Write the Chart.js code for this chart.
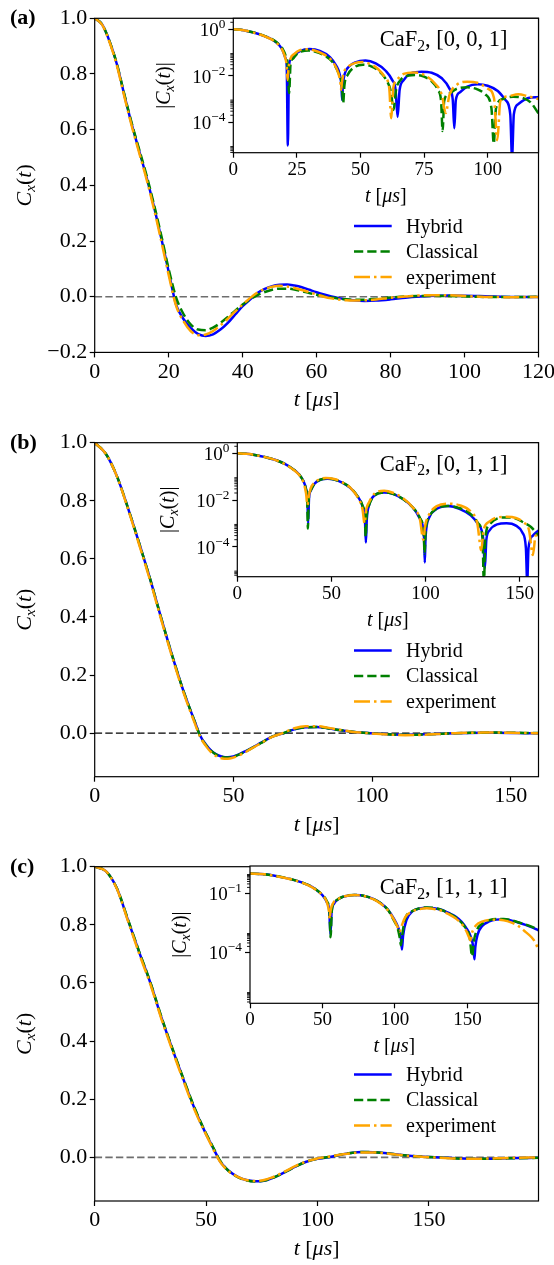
<!DOCTYPE html>
<html>
<head>
<meta charset="utf-8">
<script src="https://cdn.jsdelivr.net/npm/chart.js@4.4.1/dist/chart.umd.min.js"></script>
<style>
html, body { margin: 0; padding: 0; background: #fff; overflow: hidden; width: 554px; height: 1265px; }
canvas { position: absolute; }
</style>
</head>
<body>
<canvas id="mainA" width="580" height="420" style="left:0;top:0"></canvas>
<canvas id="insetA" width="450" height="215" style="left:130px;top:0"></canvas>
<canvas id="mainB" width="580" height="420" style="left:0;top:420px"></canvas>
<canvas id="insetB" width="450" height="215" style="left:130px;top:420px"></canvas>
<canvas id="mainC" width="580" height="425" style="left:0;top:840px"></canvas>
<canvas id="insetC" width="450" height="215" style="left:130px;top:840px"></canvas>
<script>
// ---------- panel (a): CaF2 [0,0,1] ----------
const tA = [0,2,4,6,8,10,12,14,16,18,20,22,24,26,28,30,32,34,36,38,40,42,44,46,48,50,52,54,56,58,60,62,64,66,68,70,73,76,80,84,88,92,96,100,104,108,112,116,120];
const hybA = [1.0,0.978,0.918,0.835,0.725,0.62,0.525,0.43,0.325,0.21,0.09,-0.028,-0.08,-0.113,-0.134,-0.141,-0.135,-0.118,-0.094,-0.064,-0.034,-0.01,0.013,0.028,0.038,0.043,0.044,0.04,0.034,0.025,0.016,0.008,0.001,-0.005,-0.01,-0.013,-0.015,-0.014,-0.0095,-0.0035,0.0006,0.0034,0.0043,0.0037,0.0022,0.0006,-0.0006,-0.0011,-0.0012];
const clsA = [1.0,0.978,0.918,0.836,0.728,0.624,0.53,0.437,0.333,0.22,0.1,-0.002,-0.062,-0.1,-0.118,-0.12,-0.111,-0.094,-0.073,-0.05,-0.028,-0.01,0.006,0.017,0.025,0.029,0.029,0.026,0.02,0.013,0.007,0.002,-0.003,-0.007,-0.0095,-0.0107,-0.0105,-0.008,-0.003,0.0012,0.0028,0.0032,0.0026,0.0012,-0.0004,-0.0011,-0.0012,-0.0008,-0.00024];
const expA = [1.0,0.977,0.915,0.83,0.72,0.614,0.518,0.423,0.317,0.2,0.078,-0.032,-0.088,-0.124,-0.138,-0.136,-0.123,-0.103,-0.079,-0.053,-0.028,-0.005,0.015,0.028,0.036,0.039,0.037,0.031,0.024,0.016,0.008,0.0,-0.006,-0.01,-0.013,-0.014,-0.013,-0.01,-0.004,0.0008,0.0045,0.0056,0.005,0.0028,0.0,-0.0012,-0.0016,-0.0013,-0.001];

// inset (a): |C_x(t)|
const tHybAi = [0,4,8,12,16,18,19.5,20.5,21,21.45,21.9,22.5,24,26,30,34,38,40.5,41.8,42.5,42.8,43.1,43.8,45.5,48,52,56,60,62.5,63.8,64.6,65.4,67,70,74,78,82,85,86.3,86.9,87.5,89,92,96,100,104,107,108.9,109.6,110.3,112,116,120];
const hybAi = [1.0,0.918,0.725,0.525,0.325,0.21,0.118,0.058,0.027,1e-5,0.024,0.05,0.08,0.112,0.141,0.118,0.064,0.027,0.012,0.004,9e-4,0.004,0.012,0.025,0.038,0.045,0.034,0.016,0.0065,0.0025,1.7e-4,0.0025,0.0065,0.013,0.015,0.0135,0.0078,0.0028,9e-4,5.5e-5,9e-4,0.0019,0.0034,0.0043,0.0037,0.0022,0.0009,0.00022,3e-6,0.00022,0.0006,0.0011,0.0012];
const tClsAi = [0,4,8,12,16,18,19.5,20.5,21.3,21.95,22.5,23.5,25,27,29.5,32,36,39,41.5,42.7,43.2,43.7,45,48,51,54,57,60,62,63,64,66,69,72,75,78,80.5,81.7,82.3,82.9,84.5,88,92,96,99,101.5,102.4,103.3,106,110,114,117,120];
const clsAi = [1.0,0.918,0.728,0.53,0.333,0.22,0.138,0.078,0.036,1.8e-3,0.03,0.055,0.087,0.113,0.121,0.111,0.073,0.039,0.012,0.004,6.6e-4,0.004,0.011,0.025,0.03,0.026,0.017,0.007,0.002,3.4e-4,0.0025,0.007,0.0102,0.0108,0.0092,0.0058,0.0024,8e-4,4.2e-5,8e-4,0.0016,0.0028,0.0032,0.0026,0.0016,0.0004,1.2e-5,0.0004,0.001,0.00125,0.0011,0.0007,0.00024];
const tExpAi = [0,4,8,12,16,18,19.5,20.5,21,21.35,21.7,22.5,24,26,29,32,36,39,41.3,42.1,42.4,42.7,43.5,45,48,51,54,57,59.5,61.3,62.1,62.9,64.5,67,71,75,79,82,83.5,85,88,92,96,100,102.5,103.8,105,108,112,116,120];
const expAi = [1.0,0.915,0.72,0.518,0.317,0.2,0.115,0.055,0.026,6.6e-3,0.02,0.055,0.088,0.124,0.138,0.123,0.079,0.041,0.013,0.005,2.5e-3,0.005,0.014,0.024,0.036,0.039,0.031,0.019,0.009,0.003,1.5e-4,0.003,0.007,0.012,0.014,0.011,0.005,0.0015,2.5e-4,0.0015,0.0042,0.0056,0.005,0.0028,0.0011,1.7e-5,0.0008,0.0013,0.0016,0.0013,0.001];

// ---------- panel (b): CaF2 [0,1,1] ----------
const tB = [0,4,8,12,16,20,24,28,32,34,36,38,40,42,44,46,48,50,52,54,56,60,64,68,72,76,80,84,88,92,96,100,104,108,112,116,120,125,130,135,140,145,150,155,160];
const hybB = [1.0,0.962,0.885,0.775,0.655,0.53,0.395,0.265,0.145,0.092,0.042,-0.008,-0.038,-0.06,-0.074,-0.081,-0.083,-0.08,-0.073,-0.064,-0.054,-0.033,-0.012,-0.001,0.013,0.02,0.021,0.017,0.011,0.006,0.002,-0.0003,-0.003,-0.0048,-0.0055,-0.005,-0.0038,-0.0022,-0.0004,0.0007,0.001,0.0009,0.0005,-0.0001,-0.0005];
const clsB = [1.0,0.962,0.885,0.775,0.655,0.53,0.395,0.265,0.145,0.092,0.041,-0.01,-0.04,-0.061,-0.075,-0.082,-0.084,-0.081,-0.074,-0.065,-0.055,-0.034,-0.012,-0.0005,0.014,0.02,0.021,0.017,0.011,0.006,0.0018,-0.0005,-0.0032,-0.005,-0.0056,-0.0052,-0.004,-0.0024,-0.0004,0.0011,0.0017,0.0018,0.0014,0.0007,0.0003];
const expB = [1.0,0.962,0.884,0.772,0.65,0.525,0.39,0.26,0.14,0.087,0.036,-0.012,-0.043,-0.066,-0.08,-0.087,-0.088,-0.084,-0.077,-0.067,-0.056,-0.034,-0.013,0.001,0.017,0.024,0.024,0.019,0.012,0.006,0.0018,-0.001,-0.004,-0.006,-0.007,-0.0065,-0.005,-0.0026,-0.0001,0.0012,0.0018,0.0018,0.0013,0.0004,-0.0002];

const tHybBi = [0,5,10,15,20,25,30,33,35,36.5,37.2,37.65,38.1,39,41,44,48,52,56,60,64,66.5,67.8,68.3,68.8,70,73,78,83,88,93,97,99.2,99.6,100,102,106,112,118,124,128,130.7,131.5,132.3,134,138,143,148,151.5,153.3,154,154.7,157,160];
const hybBi = [1.0,0.95,0.83,0.685,0.53,0.36,0.2,0.12,0.068,0.03,0.012,1e-3,0.012,0.025,0.05,0.073,0.081,0.073,0.054,0.033,0.014,0.0055,0.0015,1.5e-4,0.0015,0.006,0.016,0.021,0.018,0.011,0.005,0.0016,2.5e-4,2.1e-5,2.5e-4,0.0018,0.0042,0.0055,0.0042,0.0022,0.0009,0.0002,1.2e-5,0.0002,0.0005,0.0009,0.001,0.0008,0.0004,9e-5,3e-6,9e-5,0.0003,0.0005];
const tClsBi = [0,5,10,15,20,25,30,33,35,36.5,37.1,37.5,37.9,39,41,44,48,52,56,60,64,66.5,67.7,68.2,68.7,70,73,78,83,88,93,97,99,99.5,100,102,106,112,118,124,128,130.3,131,131.7,134,138,143,148,152,156,160];
const clsBi = [1.0,0.95,0.83,0.685,0.53,0.36,0.2,0.12,0.066,0.028,0.012,6e-4,0.01,0.026,0.05,0.074,0.082,0.074,0.055,0.034,0.014,0.0058,0.002,2.7e-4,0.002,0.006,0.016,0.021,0.018,0.011,0.005,0.0017,4e-4,5e-5,4e-4,0.0019,0.0043,0.0056,0.0045,0.0025,0.001,0.0002,2e-6,0.0002,0.0009,0.0016,0.0018,0.0016,0.0011,0.0007,0.0003];
const tExpBi = [0,5,10,15,20,25,30,33,35,36.5,37.3,37.8,39,41,44,47,52,56,60,64,66.5,67.6,68.5,70,73,78,83,88,93,97,98.8,99.8,102,106,112,118,124,127.5,129.6,130.8,134,138,143,148,152,155,157,158.5,160];
const expBi = [1.0,0.95,0.83,0.68,0.525,0.355,0.195,0.115,0.06,0.02,6e-3,0.012,0.032,0.055,0.08,0.088,0.077,0.056,0.034,0.013,0.004,1e-3,0.004,0.008,0.019,0.025,0.02,0.012,0.005,0.0015,2e-4,0.0008,0.0025,0.0055,0.007,0.006,0.0032,0.001,7e-5,0.0005,0.0012,0.0018,0.0019,0.0017,0.0011,0.0005,4.4e-5,0.0003,0.0002];

// ---------- panel (c): CaF2 [1,1,1] ----------
const tC = [0,5,10,15,20,25,30,35,40,45,50,52,54,56,58,60,64,68,72,76,80,85,90,95,100,105,110,115,120,125,130,135,140,145,150,155,160,165,170,175,180,185,190,195,199];
const hybC = [1.0,0.985,0.925,0.815,0.705,0.6,0.48,0.37,0.265,0.165,0.08,0.05,0.02,-0.01,-0.03,-0.045,-0.066,-0.078,-0.082,-0.08,-0.07,-0.052,-0.032,-0.015,-0.0045,0.0003,0.0085,0.015,0.0183,0.0178,0.015,0.0105,0.0066,0.0036,0.0013,-0.0001,-0.0021,-0.0037,-0.0046,-0.0048,-0.0042,-0.0033,-0.0025,-0.0018,-0.0013];
const clsC = [1.0,0.985,0.925,0.817,0.707,0.602,0.482,0.372,0.267,0.167,0.082,0.052,0.022,-0.008,-0.029,-0.046,-0.067,-0.079,-0.083,-0.08,-0.07,-0.052,-0.032,-0.015,-0.004,0.001,0.009,0.015,0.0185,0.018,0.015,0.0102,0.0062,0.0033,0.0011,-0.0006,-0.0028,-0.0043,-0.005,-0.005,-0.0043,-0.0034,-0.0026,-0.0019,-0.0014];
const expC = [1.0,0.985,0.923,0.812,0.7,0.595,0.475,0.365,0.26,0.16,0.078,0.047,0.016,-0.012,-0.032,-0.047,-0.066,-0.078,-0.081,-0.078,-0.068,-0.05,-0.03,-0.014,-0.0035,0.0025,0.009,0.014,0.0172,0.017,0.014,0.0096,0.0058,0.0031,0.0007,-0.0012,-0.0034,-0.0044,-0.0045,-0.0042,-0.0033,-0.0022,-0.0011,-0.0004,-0.00012];

const tHybCi = [0,10,20,30,40,45,50,53,54.7,55.5,56.3,58,60,64,68,72,76,80,85,90,95,99,102,104,104.8,105.6,108,112,117,122,127,132,137,142,146,149,152,154.2,154.8,155.4,157,160,165,170,175,180,185,190,195,199];
const hybCi = [1.0,0.925,0.705,0.48,0.265,0.165,0.08,0.035,0.012,8e-4,0.012,0.03,0.045,0.066,0.078,0.082,0.08,0.07,0.052,0.032,0.015,0.0055,0.002,0.0006,1.4e-4,0.0007,0.0045,0.012,0.017,0.0185,0.0175,0.0145,0.01,0.0065,0.0036,0.0018,0.0007,0.00015,4.4e-5,0.00018,0.0008,0.0021,0.0037,0.0046,0.0048,0.0042,0.0033,0.0025,0.0018,0.0013];
const tClsCi = [0,10,20,30,40,45,50,53,54.8,55.6,56.4,58,60,64,68,72,76,80,85,90,95,99,102,103.4,104.1,104.8,107,112,117,122,127,132,137,142,146,149,151.5,153.2,154.5,157,160,165,170,175,180,185,190,195,199];
const clsCi = [1.0,0.925,0.707,0.482,0.267,0.167,0.082,0.04,0.012,5.8e-4,0.012,0.032,0.046,0.067,0.079,0.083,0.08,0.07,0.052,0.032,0.015,0.0045,0.0015,0.0005,2.3e-4,0.0006,0.005,0.0125,0.0175,0.019,0.018,0.0145,0.0098,0.006,0.0032,0.0016,0.0006,6.3e-5,0.0004,0.0016,0.0028,0.0043,0.005,0.005,0.0043,0.0034,0.0026,0.0019,0.0014];
const tExpCi = [0,10,20,30,40,45,50,53,54.5,55,55.5,57.5,60,64,68,72,76,80,85,90,95,99,102,103.2,104.2,107,112,117,122,127,132,137,142,146,149,151,152.1,153,156,160,165,170,175,180,185,190,194,197,199];
const expCi = [1.0,0.923,0.7,0.475,0.26,0.16,0.078,0.036,0.012,4.8e-3,0.012,0.033,0.047,0.066,0.078,0.081,0.078,0.068,0.05,0.03,0.014,0.005,0.0018,1.1e-3,0.0018,0.006,0.012,0.016,0.0175,0.016,0.013,0.0088,0.0052,0.0028,0.0013,0.0006,4e-4,0.0009,0.0024,0.0036,0.0044,0.0045,0.0042,0.0033,0.0022,0.0011,0.0006,0.0003,0.00012];

// tick values
const yTicksA = [-0.2,0,0.2,0.4,0.6,0.8,1.0];
const yTicksBC = [0,0.2,0.4,0.6,0.8,1.0];
const xTicksA = [0,20,40,60,80,100,120];
const xTicksAi = [0,25,50,75,100];
const xTicks50 = [0,50,100,150];
const logExpAB = [0,-2,-4];
const logExpC = [-1,-4];
const MINOR_SUBS = [2,3,4,5,6,7,8,9];

const SERIF = '"Liberation Serif", "Times New Roman", serif';
const BLUE = '#0000ff', GREEN = '#008000', ORANGE = '#ffa500';
Chart.defaults.font.family = SERIF;

function fontStr(size, it, bold) {
    return (it ? 'italic ' : '') + (bold ? 'bold ' : '') + size + 'px ' + SERIF;
}

// draw text made of pieces (italic, subscript, superscript)
function drawRich(ctx, segs, x, y, size, align, bold) {
    let w = 0;
    for (const s of segs) {
        ctx.font = fontStr(s.sub || s.sup ? size * 0.7 : size, s.it, bold);
        w += ctx.measureText(s.t).width;
    }
    let cx = align === 'center' ? x - w / 2 : align === 'right' ? x - w : x;
    ctx.textAlign = 'left';
    ctx.textBaseline = 'alphabetic';
    ctx.fillStyle = '#000';
    for (const s of segs) {
        ctx.font = fontStr(s.sub || s.sup ? size * 0.7 : size, s.it, bold);
        const dy = s.sub ? size * 0.2 : s.sup ? -size * 0.42 : 0;
        ctx.fillText(s.t, cx, y + dy);
        cx += ctx.measureText(s.t).width;
    }
}

const X_TITLE = [{ t: 't', it: true }, { t: ' [' }, { t: 'μ', it: true }, { t: 's', it: true }, { t: ']' }];
const Y_MAIN = [{ t: 'C', it: true }, { t: 'x', it: true, sub: true }, { t: '(' }, { t: 't', it: true }, { t: ')' }];
const Y_INSET = [{ t: '|' }].concat(Y_MAIN, [{ t: '|' }]);

const decor = {
    id: 'decor',
    beforeDraw(chart, args, o) {
        if (!o.inset) return;
        const a = chart.chartArea, c = chart.ctx;
        c.save();
        c.fillStyle = '#fff';
        c.fillRect(a.left, a.top, a.right - a.left, a.bottom - a.top);
        c.restore();
    },
    afterDraw(chart, args, o) {
        const c = chart.ctx, a = chart.chartArea, ys = chart.scales.y;
        c.save();
        c.setLineDash([]);
        c.strokeStyle = '#000';
        c.lineWidth = 1.2;
        c.strokeRect(a.left, a.top, a.right - a.left, a.bottom - a.top);

        if (o.minorDecades) {
            c.lineWidth = 0.9;
            for (const k of o.minorDecades) {
                for (const m of MINOR_SUBS) {
                    const v = m * Math.pow(10, k);
                    if (v < ys.min || v > ys.max) continue;
                    const y = ys.getPixelForValue(v);
                    c.beginPath(); c.moveTo(a.left, y); c.lineTo(a.left - 3, y); c.stroke();
                }
            }
        }
        if (o.logLabels) {
            for (const e of o.logLabels) {
                const y = ys.getPixelForValue(Math.pow(10, e));
                const ex = e === 0 ? '0' : '−' + Math.abs(e);
                drawRich(c, [{ t: '10' }, { t: ex, sup: true }], a.left - 8, y + 7, o.tickSize, 'right');
            }
        }
        const cxm = (a.left + a.right) / 2;
        drawRich(c, X_TITLE, cxm, a.bottom + o.xTitleDy, o.titleSize, 'center');

        c.save();
        c.translate(a.left - 63.7, (a.top + a.bottom) / 2);
        c.rotate(-Math.PI / 2);
        drawRich(c, o.inset ? Y_INSET : Y_MAIN, 0, 0, o.titleSize, 'center');
        c.restore();

        if (o.panel) {
            drawRich(c, [{ t: o.panel }], 10, a.top + 6, 22, 'left', true);
        }
        if (o.caption) {
            drawRich(c, [{ t: 'CaF' }, { t: '2', sub: true }, { t: ', ' + o.caption }], a.right - 31, a.top + 28, 22.5, 'right');
        }
        if (o.legend) {
            let row = 0;
            for (const ds of chart.data.datasets) {
                if (!ds.label) continue;
                const y = a.top + 207.7 + row * 25.5;
                c.strokeStyle = ds.borderColor;
                c.lineWidth = ds.borderWidth;
                c.setLineDash(ds.borderDash || []);
                c.beginPath(); c.moveTo(354, y); c.lineTo(391.7, y); c.stroke();
                c.setLineDash([]);
                drawRich(c, [{ t: ds.label }], 406, y + 6.5, 20, 'left');
                row++;
            }
        }
        c.restore();
    }
};

function series(ts, vs, kind) {
    const base = {
        data: ts.map((t, i) => ({ x: t, y: vs[i] })),
        pointRadius: 0, borderWidth: 2.5, fill: false,
        cubicInterpolationMode: 'monotone', borderJoinStyle: 'round'
    };
    if (kind === 'hyb') return Object.assign(base, { label: 'Hybrid', borderColor: BLUE, order: 3 });
    if (kind === 'cls') return Object.assign(base, { label: 'Classical', borderColor: GREEN, borderDash: [9.25, 4], order: 2 });
    return Object.assign(base, { label: 'experiment', borderColor: ORANGE, borderDash: [16, 4, 2.5, 4], order: 1 });
}

function zeroLine(xMax, color, width) {
    return {
        data: [{ x: 0, y: 0 }, { x: xMax, y: 0 }], borderColor: color, borderWidth: width,
        borderDash: [7.4, 3.2], pointRadius: 0, order: 9, label: ''
    };
}

function axisCommon(size, pad) {
    return {
        ticks: { color: '#000', font: { family: SERIF, size: size }, padding: pad, maxRotation: 0, autoSkip: false },
        grid: { drawOnChartArea: false, tickLength: 5, tickColor: '#000', tickWidth: 1.2 },
        border: { display: false }
    };
}

function mainChart(id, p) {
    const x = axisCommon(22, 1.5), y = axisCommon(22, 2.5);
    Object.assign(x, {
        type: 'linear', min: 0, max: p.xMax,
        afterBuildTicks: s => { s.ticks = p.xTicks.map(v => ({ value: v })); },
        afterFit: s => { s.height = p.xH; }
    });
    Object.assign(y, {
        type: 'linear', min: p.yMin, max: 1.0,
        afterBuildTicks: s => { s.ticks = p.yTicks.map(v => ({ value: v })); },
        afterFit: s => { s.width = 94.7; }
    });
    y.ticks.callback = v => (v < 0 ? '−' : '') + Math.abs(v).toFixed(1);
    return new Chart(document.getElementById(id), {
        type: 'line',
        data: { datasets: [zeroLine(p.xMax, p.zeroColor, p.zeroWidth), series(p.t, p.hyb, 'hyb'), series(p.t, p.cls, 'cls'), series(p.t, p.exp, 'exp')] },
        options: {
            responsive: false, animation: false, events: [],
            layout: { padding: { left: 0, top: p.top, right: 41.5, bottom: 0 } },
            plugins: {
                legend: { display: false }, tooltip: { enabled: false },
                decor: { inset: false, panel: p.panel, legend: true, xTitleDy: 54, titleSize: 22 }
            },
            scales: { x: x, y: y }
        },
        plugins: [decor]
    });
}

function insetChart(id, p) {
    const x = axisCommon(19, 0.5), y = axisCommon(19, 0);
    Object.assign(x, {
        type: 'linear', min: 0, max: p.xMax,
        afterBuildTicks: s => { s.ticks = p.xTicks.map(v => ({ value: v })); },
        afterFit: s => { s.height = p.xH; }
    });
    Object.assign(y, {
        type: 'logarithmic', min: p.yMin, max: p.yMax,
        afterBuildTicks: s => { s.ticks = p.logExp.map(e => ({ value: Math.pow(10, e) })); },
        afterFit: s => { s.width = p.yW; }
    });
    y.ticks.display = false;
    return new Chart(document.getElementById(id), {
        type: 'line',
        data: { datasets: [series(p.tH, p.hyb, 'hyb'), series(p.tC, p.cls, 'cls'), series(p.tE, p.exp, 'exp')] },
        options: {
            responsive: false, animation: false, events: [],
            layout: { padding: { left: 0, top: p.top, right: 41.5, bottom: 0 } },
            plugins: {
                legend: { display: false }, tooltip: { enabled: false },
                decor: {
                    inset: true, caption: p.caption, logLabels: p.logExp, minorDecades: p.minor,
                    tickSize: 19, xTitleDy: 49, titleSize: 20
                }
            },
            scales: { x: x, y: y }
        },
        plugins: [decor]
    });
}

mainChart('mainA', { t: tA, hyb: hybA, cls: clsA, exp: expA, xMax: 120, xTicks: xTicksA, yMin: -0.2, yTicks: yTicksA,
    top: 18.3, xH: 67.6, panel: '(a)', zeroColor: '#6e6e6e', zeroWidth: 1.6 });
insetChart('insetA', { tH: tHybAi, hyb: hybAi, tC: tClsAi, cls: clsAi, tE: tExpAi, exp: expAi, xMax: 120, xTicks: xTicksAi,
    yMin: 4.9e-6, yMax: 2.97, logExp: logExpAB, minor: [0, -2, -4, -6], top: 18.3, yW: 103.3, xH: 62.3, caption: '[0, 0, 1]' });

mainChart('mainB', { t: tB, hyb: hybB, cls: clsB, exp: expB, xMax: 160, xTicks: xTicks50, yMin: -0.15, yTicks: yTicksBC,
    top: 22.7, xH: 63.3, panel: '(b)', zeroColor: '#000', zeroWidth: 1.2 });
insetChart('insetB', { tH: tHybBi, hyb: hybBi, tC: tClsBi, cls: clsBi, tE: tExpBi, exp: expBi, xMax: 160, xTicks: xTicks50,
    yMin: 5.2e-6, yMax: 2.85, logExp: logExpAB, minor: [0, -2, -4, -6], top: 22.7, yW: 107.3, xH: 58.3, caption: '[0, 1, 1]' });

mainChart('mainC', { t: tC, hyb: hybC, cls: clsC, exp: expC, xMax: 199.2, xTicks: xTicks50, yMin: -0.15, yTicks: yTicksBC,
    top: 26.7, xH: 64, panel: '(c)', zeroColor: '#6e6e6e', zeroWidth: 1.6 });
insetChart('insetC', { tH: tHybCi, hyb: hybCi, tC: tClsCi, cls: clsCi, tE: tExpCi, exp: expCi, xMax: 199, xTicks: xTicks50,
    yMin: 2.57e-7, yMax: 2.44, logExp: logExpC, minor: [-1, -4, -7], top: 26, yW: 120, xH: 51.7, caption: '[1, 1, 1]' });
</script>
</body>
</html>
